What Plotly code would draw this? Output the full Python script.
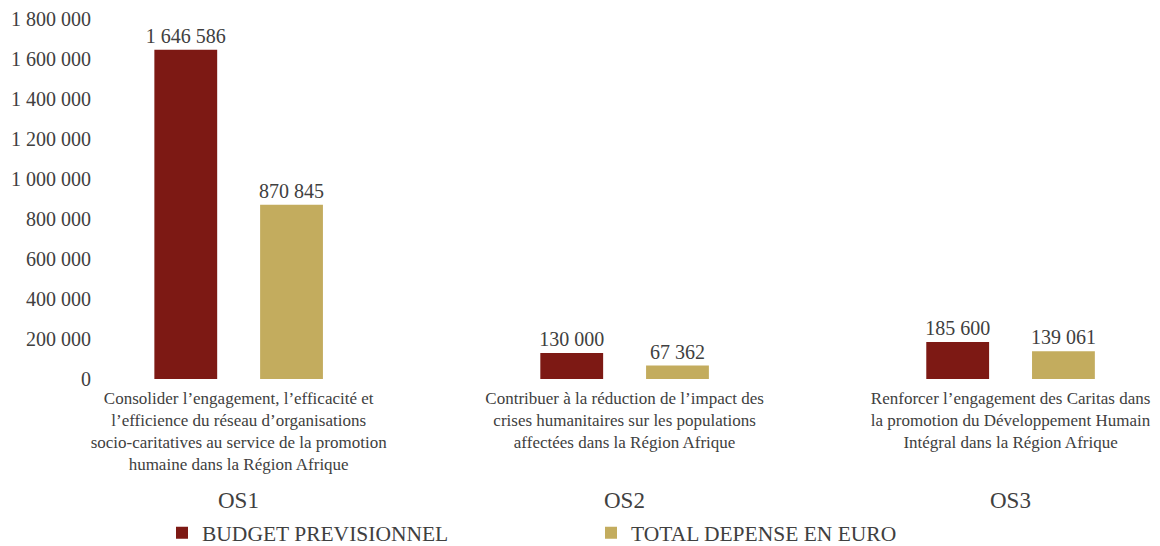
import plotly.graph_objects as go

categories = ["OS1", "OS2", "OS3"]
descriptions = [
    "Consolider l’engagement, l’efficacité et<br>l’efficience du réseau d’organisations<br>socio-caritatives au service de la promotion<br>humaine dans la Région Afrique",
    "Contribuer à la réduction de l’impact des<br>crises humanitaires sur les populations<br>affectées dans la Région Afrique",
    "Renforcer l’engagement des Caritas dans<br>la promotion du Développement Humain<br>Intégral dans la Région Afrique",
]
budget = [1646586, 130000, 185600]
depense = [870845, 67362, 139061]
series_names = ["BUDGET PREVISIONNEL", "TOTAL DEPENSE EN EURO"]
y_ticks = [0, 200000, 400000, 600000, 800000, 1000000, 1200000, 1400000, 1600000, 1800000]

RED = "#7D1914"
GOLD = "#C3AC5E"
TXT = "#404040"
FONT = "Liberation Serif"

# page body has an 8px default margin, so the figure is 8px smaller
W, H = 1152, 538

fig = go.Figure()
for name, vals, col in [(series_names[0], budget, RED), (series_names[1], depense, GOLD)]:
    fig.add_trace(go.Bar(
        x=categories, y=vals, name=name,
        marker=dict(color=col, line=dict(width=0)),
        texttemplate="%{y:,.0f}", textposition="outside",
        constraintext="none",
        textfont=dict(family=FONT, size=20, color=TXT),
        cliponaxis=False,
    ))

for cat in categories:
    fig.add_annotation(
        x=cat, xref="x", y=-0.329, yref="paper", yanchor="middle",
        text=cat, showarrow=False,
        font=dict(family=FONT, size=23, color=TXT),
    )

fig.update_layout(
    width=W, height=H,
    margin=dict(l=89, r=2, t=3, b=167, autoexpand=False),
    paper_bgcolor="white", plot_bgcolor="white",
    barmode="group", bargap=0.452, bargroupgap=0.406,
    separators=", ",
    showlegend=True,
    legend=dict(
        orientation="h", xref="container", x=154 / W, xanchor="left",
        yref="paper", y=-0.418, yanchor="middle",
        entrywidth=384, entrywidthmode="pixels",
        font=dict(family=FONT, size=21.5, color=TXT),
        traceorder="normal",
    ),
    font=dict(family=FONT, color=TXT),
)
fig.update_xaxes(
    tickvals=categories, ticktext=descriptions,
    tickfont=dict(family=FONT, size=17, color=TXT),
    range=[-0.367, 2.382],
    showline=False, showgrid=False, zeroline=False, ticks="",
    ticklabelstandoff=7, automargin=False,
)
fig.update_yaxes(
    range=[0, 1840000], tickvals=y_ticks, tickformat=",.0f",
    tickfont=dict(family=FONT, size=20, color=TXT),
    showline=False, showgrid=False, zeroline=False, ticks="",
    ticklabelstandoff=5, automargin=False, ticklabeloverflow="allow",
)

fig.write_html("out.html")
